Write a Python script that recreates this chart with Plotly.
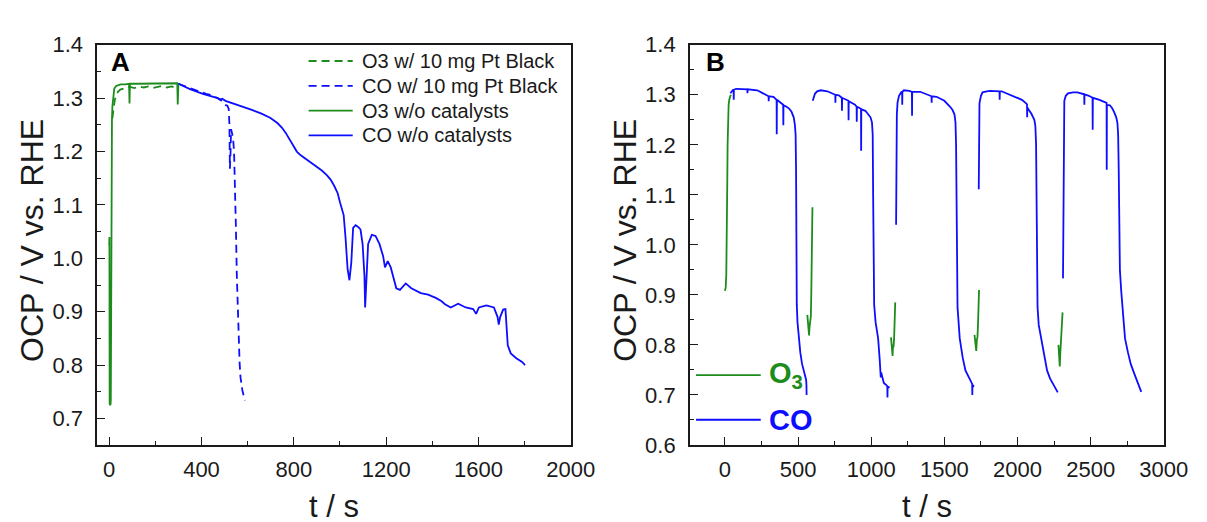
import plotly.graph_objects as go

W, H = 1207, 522
GREEN = "#1c8c1c"
BLUE = "#0d0dff"
INK = "#1a1a1a"
FONT = "Arial, Liberation Sans, sans-serif"

# ---------------- Panel A data ----------------
A_o3_pt_t = [14, 16, 18, 21, 25, 30, 38, 48, 60, 75, 90, 110, 130, 150, 170, 190, 210, 230, 250, 270, 290, 300]
A_o3_pt_v = [1.262, 1.272, 1.28, 1.288, 1.298, 1.305, 1.312, 1.316, 1.318, 1.320, 1.321, 1.319, 1.322, 1.320,
             1.322, 1.319, 1.321, 1.323, 1.320, 1.322, 1.319, 1.320]

A_co_pt_t = [300, 330, 360, 390, 420, 440, 460, 480, 495, 505, 512, 518, 521, 523, 526, 528, 532, 537, 541, 545,
             549, 553, 557, 561, 565, 569, 573, 577, 583, 589]
A_co_pt_v = [1.327, 1.322, 1.318, 1.313, 1.308, 1.306, 1.302, 1.298, 1.292, 1.287, 1.286, 1.280, 1.25, 1.168,
             1.2, 1.242, 1.235, 1.224, 1.2, 1.147, 1.06, 0.968, 0.9, 0.849, 0.805, 0.777, 0.762, 0.753, 0.742, 0.734]

A_o3_t = [0, 1, 2, 4, 6, 7, 8, 9, 10, 12, 14, 17, 22, 30, 40, 50, 70, 86, 88, 90, 120, 160, 200, 240, 280, 295,
          297, 299, 300]
A_o3_v = [1.025, 1.04, 0.728, 0.725, 0.727, 0.735, 0.95, 1.10, 1.20, 1.26, 1.285, 1.305, 1.318, 1.323, 1.325,
          1.326, 1.326, 1.327, 1.29, 1.327, 1.327, 1.327, 1.327, 1.328, 1.328, 1.328, 1.288, 1.328, 1.328]

A_co_t = [300, 350, 406, 440, 470, 480, 490, 504, 560, 618, 660, 699, 730, 748, 765, 780, 800, 813, 830, 846,
          870, 894, 920, 943, 960, 976, 990, 1000, 1010, 1016, 1024, 1033, 1041, 1049, 1057, 1068, 1081, 1089,
          1098, 1106, 1109, 1114, 1122, 1138, 1154, 1171, 1187, 1195, 1207, 1220, 1228, 1244, 1260, 1285, 1309,
          1350, 1382, 1415, 1439, 1455, 1480, 1512, 1545, 1577, 1590, 1602, 1634, 1667, 1683, 1688, 1694, 1707,
          1717, 1720, 1727, 1740, 1764, 1789, 1802]
A_co_v = [1.327, 1.317, 1.308, 1.304, 1.300, 1.297, 1.299, 1.295, 1.287, 1.278, 1.271, 1.263, 1.253, 1.245,
          1.235, 1.224, 1.210, 1.200, 1.193, 1.188, 1.180, 1.173, 1.165, 1.156, 1.147, 1.135, 1.122, 1.105,
          1.092, 1.081, 1.039, 0.980, 0.959, 0.992, 1.057, 1.062, 1.058, 1.054, 1.027, 0.968, 0.908, 0.968,
          1.027, 1.044, 1.042, 1.027, 1.004, 0.983, 0.995, 0.983, 0.968, 0.944, 0.941, 0.953, 0.944, 0.935,
          0.932, 0.926, 0.920, 0.914, 0.908, 0.915, 0.908, 0.905, 0.896, 0.908, 0.912, 0.908, 0.890, 0.876,
          0.890, 0.904, 0.905, 0.879, 0.837, 0.822, 0.813, 0.806, 0.800]

# ---------------- Panel B data ----------------
B_o3_t = [
    [0, 5, 9, 12, 14, 16, 18, 21, 25, 30, 35, 40],
    [563, 566, 569, 572, 575, 578, 581, 584, 587, 590, 593, 596, 598],
    [1135, 1139, 1143, 1146, 1149, 1152, 1156, 1160, 1164],
    [1706, 1710, 1714, 1718, 1722, 1726, 1730, 1734, 1737],
    [2280, 2283, 2286, 2289, 2292, 2296, 2300, 2304, 2308],
]
B_o3_v = [
    [0.908, 0.915, 0.94, 0.99, 1.06, 1.13, 1.20, 1.257, 1.28, 1.291, 1.297, 1.300],
    [0.86, 0.851, 0.84, 0.83, 0.819, 0.835, 0.84, 0.85, 0.857, 0.90, 0.952, 1.03, 1.075],
    [0.815, 0.80, 0.79, 0.778, 0.80, 0.795, 0.81, 0.85, 0.885],
    [0.82, 0.805, 0.795, 0.788, 0.81, 0.815, 0.84, 0.88, 0.91],
    [0.80, 0.79, 0.77, 0.757, 0.78, 0.80, 0.80, 0.84, 0.865],
]
B_co_t = [
    [37, 45, 55, 59, 60, 61, 76, 106, 153, 154, 155, 221, 280, 298, 299, 300, 332, 353, 354, 355, 398, 399, 400,
     421, 440, 455, 462, 470, 478, 483, 486, 488, 491, 496, 505, 515, 527, 540, 550, 555, 557, 558],
    [600, 605, 615, 630, 655, 700, 754, 755, 756, 778, 799, 800, 801, 844, 845, 846, 889, 900, 901, 902, 930,
     931, 932, 960, 979, 995, 1005, 1010, 1013, 1016, 1020, 1030, 1047, 1058, 1063, 1065, 1068, 1086, 1105,
     1110, 1111, 1112, 1118, 1125],
    [1170, 1172, 1175, 1180, 1190, 1205, 1211, 1212, 1213, 1223, 1260, 1278, 1279, 1280, 1335, 1400, 1412, 1413,
     1414, 1447, 1500, 1536, 1555, 1569, 1576, 1580, 1583, 1586, 1590, 1605, 1625, 1644, 1665, 1683, 1690, 1691,
     1692, 1698, 1704],
    [1735, 1737, 1740, 1750, 1761, 1790, 1813, 1877, 1878, 1879, 1891, 1969, 2030, 2059, 2065, 2066, 2067, 2072,
     2095, 2115, 2122, 2127, 2131, 2134, 2137, 2145, 2163, 2185, 2202, 2222, 2241, 2260, 2275],
    [2311, 2314, 2317, 2320, 2330, 2345, 2380, 2410, 2456, 2457, 2458, 2488, 2513, 2514, 2515, 2560, 2592, 2609,
     2610, 2611, 2631, 2645, 2660, 2675, 2683, 2688, 2692, 2696, 2700, 2709, 2720, 2735, 2755, 2774, 2795, 2813,
     2830, 2846],
]
B_co_v = [
    [1.303, 1.307, 1.31, 1.31, 1.29, 1.31, 1.312, 1.312, 1.311, 1.303, 1.311, 1.309, 1.301, 1.297, 1.287, 1.297,
     1.296, 1.290, 1.221, 1.29, 1.28, 1.239, 1.279, 1.276, 1.272, 1.266, 1.26, 1.255, 1.24, 1.22, 1.15, 1.0,
     0.88, 0.845, 0.815, 0.785, 0.762, 0.745, 0.737, 0.73, 0.72, 0.70],
    [1.288, 1.295, 1.302, 1.307, 1.309, 1.307, 1.30, 1.284, 1.30, 1.299, 1.294, 1.268, 1.294, 1.288, 1.249,
     1.287, 1.28, 1.276, 1.246, 1.276, 1.272, 1.188, 1.271, 1.268, 1.262, 1.255, 1.245, 1.22, 1.1, 0.95, 0.88,
     0.845, 0.813, 0.77, 0.75, 0.735, 0.745, 0.724, 0.719, 0.717, 0.695, 0.717, 0.716, 0.714],
    [1.04, 1.2, 1.26, 1.285, 1.298, 1.305, 1.306, 1.28, 1.306, 1.309, 1.308, 1.306, 1.258, 1.306, 1.306, 1.299,
     1.297, 1.284, 1.297, 1.296, 1.288, 1.277, 1.27, 1.261, 1.245, 1.2, 1.05, 0.92, 0.875, 0.813, 0.775, 0.749,
     0.735, 0.724, 0.722, 0.70, 0.72, 0.718, 0.717],
    [1.111, 1.22, 1.283, 1.298, 1.305, 1.307, 1.308, 1.307, 1.29, 1.307, 1.307, 1.298, 1.29, 1.283, 1.281, 1.255,
     1.275, 1.272, 1.262, 1.25, 1.238, 1.2, 1.05, 0.93, 0.876, 0.84, 0.813, 0.775, 0.749, 0.733, 0.724, 0.713,
     0.705],
    [0.933, 1.15, 1.27, 1.288, 1.298, 1.303, 1.305, 1.305, 1.301, 1.28, 1.301, 1.298, 1.294, 1.23, 1.294, 1.29,
     1.286, 1.284, 1.15, 1.28, 1.279, 1.274, 1.266, 1.255, 1.244, 1.22, 1.15, 1.016, 0.95, 0.908, 0.86, 0.813,
     0.785, 0.762, 0.745, 0.73, 0.717, 0.706],
]

legend_A = [
    ("O3 w/ 10 mg Pt Black", GREEN, "8px,5px"),
    ("CO w/ 10 mg Pt Black", BLUE, "8px,5px"),
    ("O3 w/o catalysts", GREEN, "solid"),
    ("CO w/o catalysts", BLUE, "solid"),
]

LW = 1.8
fig = go.Figure()

# Panel A traces
seriesA = [(A_o3_pt_t, A_o3_pt_v, legend_A[0]), (A_co_pt_t, A_co_pt_v, legend_A[1]),
           (A_o3_t, A_o3_v, legend_A[2]), (A_co_t, A_co_v, legend_A[3])]
for t, v, (name, col, dash) in seriesA:
    fig.add_trace(go.Scatter(x=t, y=v, mode="lines", name=name, showlegend=False,
                             line=dict(color=col, width=LW, dash=dash), xaxis="x", yaxis="y"))

# Panel B traces
for t, v in zip(B_o3_t, B_o3_v):
    fig.add_trace(go.Scatter(x=t, y=v, mode="lines", name="O3", showlegend=False,
                             line=dict(color=GREEN, width=LW), xaxis="x2", yaxis="y2"))
for t, v in zip(B_co_t, B_co_v):
    fig.add_trace(go.Scatter(x=t, y=v, mode="lines", name="CO", showlegend=False,
                             line=dict(color=BLUE, width=LW), xaxis="x2", yaxis="y2"))

axis_common = dict(showline=True, linewidth=1.6, linecolor=INK, mirror=True, ticks="inside",
                   tickwidth=1.4, tickcolor=INK, showgrid=False, zeroline=False,
                   tickfont=dict(family=FONT, size=22, color=INK))

ydom = [1 - 445.7 / H, 1 - 25.7 / H]
fig.update_layout(
    width=W, height=H, margin=dict(l=0, r=0, t=0, b=0),
    paper_bgcolor="white", plot_bgcolor="white", showlegend=False,
    xaxis=dict(domain=[91 / W, 574.3 / W], range=[-52, 2000.5], tick0=0, dtick=400, ticklen=8,
               minor=dict(ticks="inside", ticklen=4, tick0=0, dtick=200, tickcolor=INK, tickwidth=1.4),
               anchor="y", ticklabelstandoff=4, **axis_common),
    yaxis=dict(domain=ydom, range=[0.65, 1.4005], tick0=0.7, dtick=0.1, tickformat=".1f", ticklen=8,
               minor=dict(ticks="inside", ticklen=4, tick0=0.65, dtick=0.05, tickcolor=INK, tickwidth=1.4),
               anchor="x", ticklabelstandoff=8, **axis_common),
    xaxis2=dict(domain=[695.7 / W, 1179.3 / W], range=[-240, 3000.5], tick0=0, dtick=500, ticklen=8,
                minor=dict(ticks="inside", ticklen=4, tick0=0, dtick=250, tickcolor=INK, tickwidth=1.4),
                anchor="y2", ticklabelstandoff=4, **axis_common),
    yaxis2=dict(domain=ydom, range=[0.5995, 1.4005], tick0=0.6, dtick=0.1, tickformat=".1f", ticklen=8,
                minor=dict(ticks="inside", ticklen=4, tick0=0.6, dtick=0.05, tickcolor=INK, tickwidth=1.4),
                anchor="x2", ticklabelstandoff=8, **axis_common),
)

annotations = []
shapes = []


def px(x):
    return x / W


def py(y):
    return 1 - y / H


# axis titles
for xc in (25, 630):
    annotations.append(dict(text="OCP / V vs. RHE", x=px(xc), y=py(231), xref="paper", yref="paper",
                            textangle=-90, showarrow=False, xanchor="center", yanchor="middle",
                            font=dict(family=FONT, size=32, color=INK)))
for xc in (332.6, 937.5):
    annotations.append(dict(text="t / s", x=px(xc), y=py(510), xref="paper", yref="paper",
                            showarrow=False, xanchor="center", yanchor="middle",
                            font=dict(family=FONT, size=31, color=INK)))
# panel labels
for lab, xl in (("A", 103), ("B", 710.5)):
    annotations.append(dict(text="<b>%s</b>" % lab, x=px(xl), y=py(44), xref="paper", yref="paper",
                            showarrow=False, xanchor="left", yanchor="middle",
                            font=dict(family=FONT, size=26, color="black")))

# legend panel A
for i, (name, col, dash) in enumerate(legend_A):
    yy = 43 + 26 * i
    shapes.append(dict(type="line", xref="paper", yref="paper", x0=px(306.7), x1=px(351.7), y0=py(yy), y1=py(yy),
                       line=dict(color=col, width=LW, dash=dash)))
    annotations.append(dict(text=name, x=px(359), y=py(yy), xref="paper", yref="paper", showarrow=False,
                            xanchor="left", yanchor="middle", font=dict(family=FONT, size=20, color=INK)))

# legend panel B
legend_B = [("O<sub>3</sub>", GREEN, 372.3), ("CO", BLUE, 419)]
for lab, col, yy in legend_B:
    shapes.append(dict(type="line", xref="paper", yref="paper", x0=px(702), x1=px(768), y0=py(yy), y1=py(yy),
                       line=dict(color=col, width=LW)))
    annotations.append(dict(text="<b>%s</b>" % lab, x=px(774), y=py(yy), xref="paper", yref="paper",
                            showarrow=False, xanchor="left", yanchor="middle",
                            font=dict(family=FONT, size=29, color=col)))

fig.update_layout(annotations=annotations, shapes=shapes)
fig.write_html("out.html")
